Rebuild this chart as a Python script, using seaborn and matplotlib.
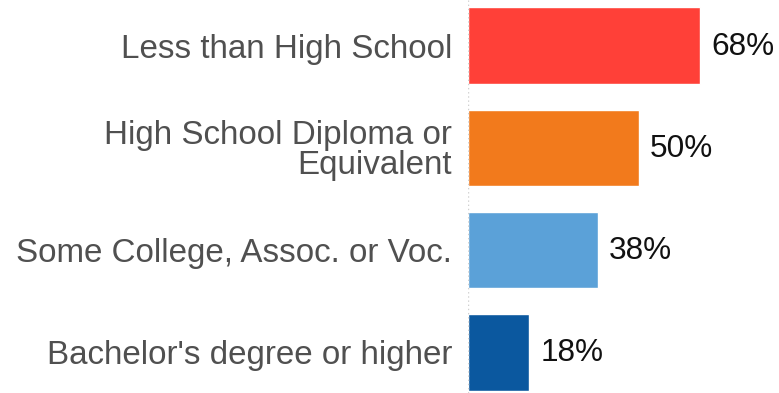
import matplotlib
matplotlib.use("Agg")
import matplotlib.pyplot as plt
import seaborn as sns
import pandas as pd

categories = ["Less than High School", "High School Diploma or\nEquivalent",
              "Some College, Assoc. or Voc.", "Bachelor's degree or higher"]
values = [68, 50, 38, 18]
value_labels = ["68%", "50%", "38%", "18%"]
colors = ["#FF4038", "#F27A1C", "#5BA1D8", "#0B589F"]

df = pd.DataFrame({"category": categories, "value": values})

sns.set_style("white")
plt.rcParams['font.family'] = ['Liberation Sans', 'DejaVu Sans']

fig = plt.figure(figsize=(7.79, 3.93), dpi=100)
ax = fig.add_axes([468 / 779, 0, 1 - 468 / 779, 1])

sns.barplot(data=df, y="category", x="value", hue="category",
            palette=colors, orient="h", width=0.745, saturation=1,
            legend=False, ax=ax)

ax.set_xlim(0, 91.2)
ax.set_ylim(3.396, -0.445)
for s in ["top", "right", "bottom", "left"]:
    ax.spines[s].set_visible(False)
ax.axvline(0, color="#d0d0d0", ls=(0, (1, 2)), lw=1)
ax.set_xticks([])
ax.set_xlabel("")
ax.set_ylabel("")
ax.tick_params(axis="y", length=0, pad=11.5)
ax.set_yticks(range(len(categories)))
ax.set_yticklabels(categories, fontsize=23.9, color="#505050", linespacing=0.93)

for i, (v, lab) in enumerate(zip(values, value_labels)):
    ax.annotate(lab, xy=(v, i), xytext=(11, -1), textcoords="offset pixels",
                va="center", ha="left", fontsize=22.7, color="#111111")

fig.savefig("out.png", dpi=100)
